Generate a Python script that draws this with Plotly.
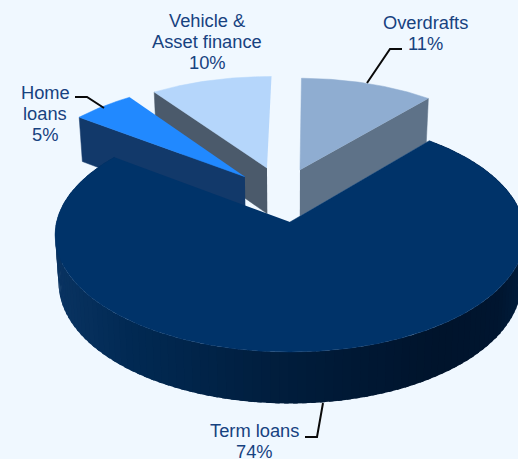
import numpy as np
import plotly.graph_objects as go

# --- data ---
categories = ["Term loans", "Home loans", "Vehicle & Asset finance", "Overdrafts"]
values = [74, 5, 10, 11]
label_lines = [["Term loans"], ["Home", "loans"], ["Vehicle &", "Asset finance"], ["Overdrafts"]]

# --- style ---
top_colors = ["#003369", "#2189FF", "#B5D6FB", "#8FADD1"]
cut_colors = [None, "#12396A", "#4B5A6B", "#5E7288"]
text_color = "#17427F"
bg = "#F0F8FF"
wall_stops_x = [55, 130, 290, 440, 500, 518]
wall_stops_rgb = [(10, 52, 98), (2, 42, 84), (1, 29, 60), (0, 20, 44), (0, 22, 48), (1, 28, 58)]

# --- projection of the 3-D pie (pixels) ---
CX, C0, RX, RY, K, THICK, BOTTOM_SCALE = 290, 222, 233.5, 115.6, 0.111, 47.5, 0.985
START_ANGLE = 40.3
# explosion offsets and radius per slice, in pie radii
PULL = [(0, 0), (-0.202, 0.41), (-0.104, 0.4926), (0.045, 0.473)]
RADIUS = [1.0, 1.0, 0.97, 0.97]
# label centres: x, y of the first line, line step
LABEL_POS = [(254, 430), (45, 92), (207, 20), (425, 22)]
LINE_STEP = 21


def project(X, Y, z=0.0):
    X, Y = np.asarray(X, float), np.asarray(Y, float)
    w = 1 + K * Y
    s = 1 - (1 - BOTTOM_SCALE) * z
    return CX + s * RX * X / w, C0 - s * RY * Y / w + z * THICK / w


def arc(a0, a1, i, n):
    t = np.radians(np.linspace(a0, a1, n))
    return RADIUS[i] * np.sin(t) + PULL[i][0], RADIUS[i] * np.cos(t) + PULL[i][1]


def poly(x, y, color, line=0):
    return go.Scatter(x=list(x), y=list(y), mode="lines", fill="toself", fillcolor=color,
                      line=dict(color=color, width=line), hoverinfo="skip", showlegend=False)


# slice angle ranges from values
spans = np.array(values) / sum(values) * 360
starts = START_ANGLE + np.concatenate([[0], np.cumsum(spans)[:-1]])
ends = starts + spans

fig = go.Figure()


def cut_face(angle, i, color):
    """Radial cut wall between the apex and the rim at one angle."""
    xo, yo = arc(angle, angle, i, 1)
    xa, ya = PULL[i]
    X = [xa, xo[0], xo[0], xa]
    Y = [ya, yo[0], yo[0], ya]
    Z = [0, 0, 1, 1]
    sx, sy = zip(*[project(a, b, c) for a, b, c in zip(X, Y, Z)])
    return poly(sx, sy, color, 0.5)


def top_face(i):
    X, Y = arc(starts[i], ends[i], i, max(12, int(spans[i] * 2)))
    X = np.concatenate([[PULL[i][0]], X])
    Y = np.concatenate([[PULL[i][1]], Y])
    sx, sy = project(X, Y)
    return poly(sx, sy, top_colors[i], 0.5)


# back slices first: vehicle, overdrafts, home, term
for i, cut_angle in [(2, starts[2]), (3, ends[3]), (1, starts[1])]:
    fig.add_trace(cut_face(cut_angle, i, cut_colors[i]))
    fig.add_trace(top_face(i))

# term wall, overlapping strips shaded by screen position
edges = np.arange(starts[0], ends[0], 2.0)
for a0 in edges:
    X, Y = arc(a0, min(a0 + 3.0, ends[0]), 0, 4)
    tx, ty = project(X, Y, 0)
    bx, by = project(X, Y, 1)
    xm = (tx[:2].mean() + bx[:2].mean()) / 2
    rgb = [np.interp(xm, wall_stops_x, [c[j] for c in wall_stops_rgb]) for j in range(3)]
    col = "rgb(%d,%d,%d)" % tuple(rgb)
    fig.add_trace(poly(list(tx) + list(bx[::-1]) + [tx[0]], list(ty) + list(by[::-1]) + [ty[0]], col, 0))
fig.add_trace(top_face(0))

# labels: one annotation per line to hold the tight line spacing
annotations = []
for lines, v, (lx, ly) in zip(label_lines, values, LABEL_POS):
    for j, t in enumerate(lines + [f"{v}%"]):
        annotations.append(dict(x=lx, y=ly + j * LINE_STEP, text=t, xref="x", yref="y",
                                showarrow=False, xanchor="center", yanchor="middle",
                                font=dict(family="Liberation Sans", size=18.3, color=text_color)))

# leader lines
leaders = ["M402,49 L390,49 L367,83", "M75,97 L87,97 L104,108", "M305,437 L317,437 L323,403"]
shapes = [dict(type="path", path=p, xref="x", yref="y", line=dict(color="#0A0A0A", width=2)) for p in leaders]

fig.update_layout(width=518, height=459, margin=dict(l=0, r=0, t=0, b=0),
                  paper_bgcolor=bg, plot_bgcolor=bg, showlegend=False,
                  xaxis=dict(range=[0, 518], visible=False, fixedrange=True),
                  yaxis=dict(range=[459, 0], visible=False, fixedrange=True),
                  annotations=annotations, shapes=shapes)
fig.write_html("out.html", config={"displayModeBar": False},
               post_script="document.body.style.margin='0';document.body.style.overflow='hidden';"
                           "document.body.style.background='%s';" % bg)
